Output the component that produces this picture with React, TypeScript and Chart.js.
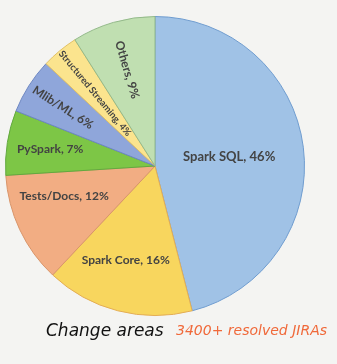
import React, { useEffect, useRef } from "react";
import { Chart, registerables } from "chart.js";

Chart.register(...registerables);

const categories = ["Spark SQL", "Spark Core", "Tests/Docs", "PySpark", "Mlib/ML", "Structured Streaming", "Others"];
const values = [46, 16, 12, 7, 6, 4, 9];
const fillColors = ["#a0c2e6", "#f8d65e", "#f2ad83", "#7dc646", "#8fa6da", "#fbe48e", "#c0dfb1"];
const borderColors = ["#6f9ccf", "#e3ad55", "#d8956a", "#62a83f", "#6c86c2", "#e0c066", "#93b98a"];
const labelRadius = [0.5, 0.66, 0.64, 0.71, 0.73, 0.63, 0.67];
const labelAngleShift = [0, 0.05, 0.12, 0, 0, 0, 0];
const labelRotated = [false, false, false, false, true, true, true];
const labelSize = [13, 12, 12, 12, 12, 9.5, 12];

const labelPlugin = {
  id: "sliceLabels",
  afterDatasetsDraw(chart: any) {
    const ctx = chart.ctx;
    const meta = chart.getDatasetMeta(0);
    meta.data.forEach((arc: any, i: number) => {
      const mid = (arc.startAngle + arc.endAngle) / 2;
      const pos = mid + labelAngleShift[i];
      const r = arc.outerRadius * labelRadius[i];
      const x = arc.x + Math.cos(pos) * r;
      const y = arc.y + Math.sin(pos) * r;
      ctx.save();
      ctx.translate(x, y);
      if (labelRotated[i]) ctx.rotate(mid + Math.PI);
      ctx.font = `bold ${labelSize[i]}px Lato, "Open Sans", sans-serif`;
      ctx.fillStyle = "#434343";
      ctx.textAlign = "center";
      ctx.textBaseline = "middle";
      ctx.fillText(`${categories[i]}, ${values[i]}%`, 0, 0);
      ctx.restore();
    });
  },
};

export default function App() {
  const ref = useRef<HTMLCanvasElement>(null);
  useEffect(() => {
    document.body.style.margin = "0";
    document.body.style.background = "#f4f4f2";
    const chart = new Chart(ref.current!, {
      type: "pie",
      data: {
        labels: categories,
        datasets: [
          {
            data: values,
            backgroundColor: fillColors,
            borderColor: borderColors,
            borderWidth: 1,
          },
        ],
      },
      options: {
        animation: false,
        responsive: false,
        layout: { padding: { left: 5, right: 32, top: 16, bottom: 48 } },
        plugins: { legend: { display: false }, tooltip: { enabled: false } },
      },
      plugins: [labelPlugin],
    });
    return () => chart.destroy();
  }, []);
  return (
    <div style={{ position: "relative", width: 337, height: 364, background: "#f4f4f2", overflow: "hidden" }}>
      <canvas ref={ref} width={337} height={364} style={{ display: "block" }} />
      <div
        style={{
          position: "absolute",
          left: 46,
          top: 320,
          fontFamily: '"DejaVu Sans", sans-serif',
          fontStyle: "italic",
          fontSize: 17,
          color: "#111",
          whiteSpace: "nowrap",
        }}
      >
        Change areas
      </div>
      <div
        style={{
          position: "absolute",
          left: 176,
          top: 322,
          fontFamily: '"DejaVu Sans", sans-serif',
          fontStyle: "italic",
          fontSize: 14,
          color: "#f0693a",
          whiteSpace: "nowrap",
        }}
      >
        3400+ resolved JIRAs
      </div>
    </div>
  );
}
